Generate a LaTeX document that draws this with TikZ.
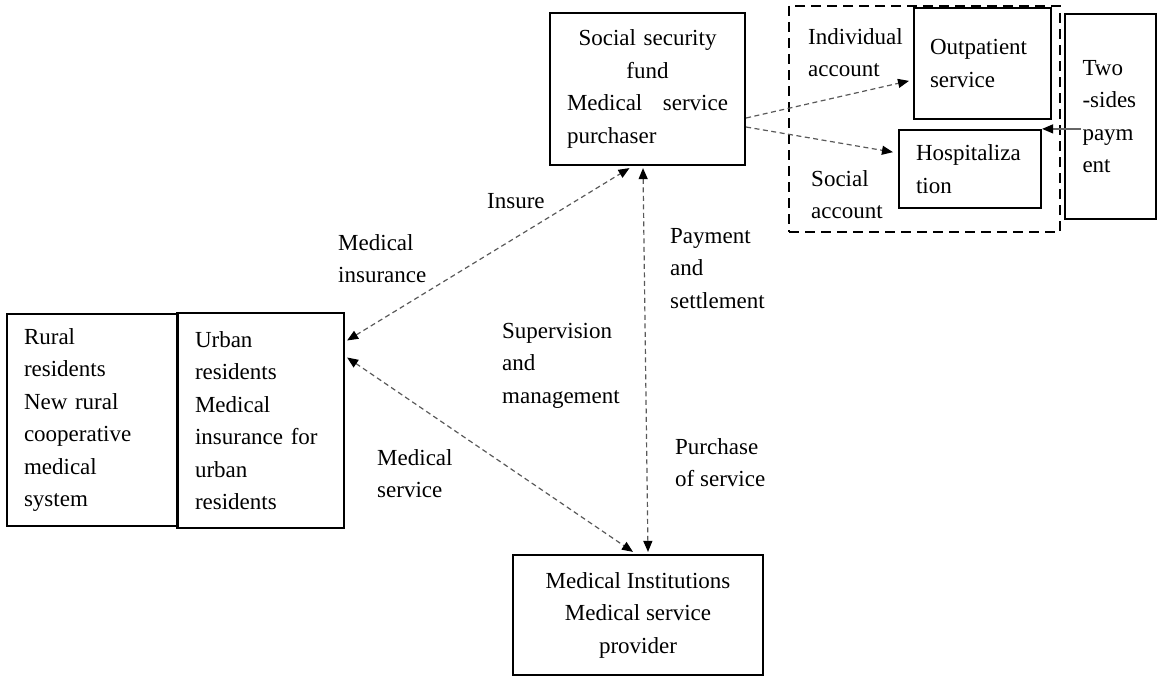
\documentclass[tikz,border=0pt]{standalone}
\usepackage{fontspec}
\setmainfont{Liberation Serif}
\usetikzlibrary{arrows.meta,calc}
\begin{document}
\begin{tikzpicture}[x=1pt,y=-1pt,
  bodyfont/.style={font=\fontsize{23pt}{32.5pt}\selectfont},
  txt/.style={bodyfont, inner sep=0pt, align=left, anchor=north west},
  box/.style={draw, line width=2.2pt, inner sep=0pt, bodyfont},
  grp/.style={draw, line width=2.4pt, dash pattern=on 10pt off 6pt, inner sep=0pt},
  link/.style={draw=black!65, line width=1.2pt, dash pattern=on 5pt off 3.5pt},
  onehead/.style={-{Triangle[length=11pt,width=9pt,color=black]}},
  twohead/.style={{Triangle[length=11pt,width=9pt,color=black]}-{Triangle[length=11pt,width=9pt,color=black]}},
  pay/.style={draw=black!60, line width=1.2pt}
]
\useasboundingbox (0,0) rectangle (1158,677);

% boxes
\node[box, minimum width=195pt, minimum height=152pt, text width=161pt, align=center]
  (soc) at (647.5,89) {Social security\\ fund\\ \makebox[161pt]{Medical\hfill service}\\ \makebox[161pt][l]{purchaser}};

\node[grp, minimum width=271pt, minimum height=226pt] (acct) at (924.5,119) {};

\node[box, minimum width=137pt, minimum height=111pt, text width=105pt, align=left]
  (out) at (982.5,63.5) {Outpatient\\ service};
\node[box, minimum width=142pt, minimum height=78pt, text width=108pt, align=left]
  (hosp) at (970,169) {Hospitaliza\\ tion};
\node[box, minimum width=91pt, minimum height=205pt, text width=56pt, align=left]
  (two) at (1110.5,116.5) {Two\\ -sides\\ paym\\ ent};

\node[box, minimum width=171pt, minimum height=212pt, text width=137pt, align=left]
  (rur) at (92.5,420) {Rural\\ residents\\ New rural\\ cooperative\\ medical\\ system};
\node[box, minimum width=167pt, minimum height=215pt, text width=131pt, align=left]
  (urb) at (260.5,420.5) {Urban\\ residents\\ Medical\\ insurance for\\ urban\\ residents};

\node[box, minimum width=250pt, minimum height=120pt, align=center]
  (med) at (638,615) {Medical Institutions\\ Medical service\\ provider};

% labels
\node[txt] (lins) at (487,193) {Insure};
\node[txt] (lmi) at (338,234) {Medical\\ insurance};
\node[txt] (lsup) at (502,323) {Supervision\\ and\\ management};
\node[txt] (lpay) at (670,228) {Payment\\ and\\ settlement};
\node[txt] (lpur) at (675,438) {Purchase\\ of service};
\node[txt] (lms) at (377,449) {Medical\\ service};
\node[txt] (lind) at (808,28) {Individual\\ account};
\node[txt] (lsoc) at (811,170) {Social\\ account};

% connectors
\draw[link, onehead, shorten >=4pt] ([yshift=-29pt]soc.east) -- ([yshift=-16.5pt]out.west);
\draw[link, onehead, shorten >=5pt] ([yshift=-38pt]soc.east) -- ([yshift=16pt]hosp.west);
\draw[pay, onehead] ($(two.west |- hosp.north east)+(17,0)$) -- (hosp.north east);

\draw[link, twohead] ([yshift=80pt,xshift=2pt]urb.east) -- ([xshift=-18pt,yshift=-2pt]soc.south);
\draw[link, twohead] ([yshift=63pt,xshift=2pt]urb.east) -- ([xshift=-5pt,yshift=2pt]med.north);
\draw[link, twohead] ([xshift=-4.5pt,yshift=-2pt]soc.south) -- ([xshift=10pt,yshift=2pt]med.north);
\end{tikzpicture}
\end{document}
